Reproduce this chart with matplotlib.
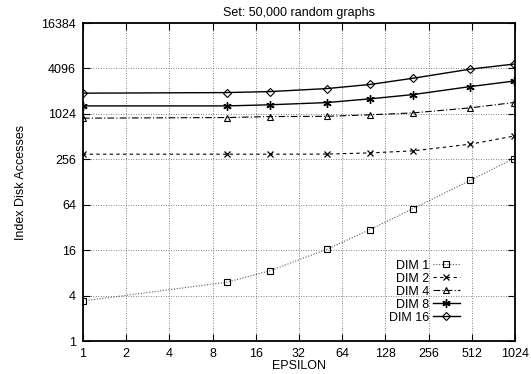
import matplotlib
matplotlib.use("Agg")
import matplotlib.pyplot as plt
from matplotlib.ticker import FixedLocator, FixedFormatter, NullLocator

plt.rcParams['font.family'] = ['Liberation Sans', 'DejaVu Sans']

epsilon = [1, 10, 20, 50, 100, 200, 500, 1000]
dim1 = [3.4, 6.0, 8.5, 16.4, 30, 57, 135, 261]
dim2 = [299, 299, 299, 300, 311, 331, 406, 518]
dim4 = [898, 915, 943, 950, 995, 1055, 1230, 1445]
dim8 = [1305, 1305, 1350, 1445, 1620, 1845, 2355, 2780]
dim16 = [1925, 1960, 2020, 2215, 2510, 3040, 4010, 4670]

x_ticks = [1, 2, 4, 8, 16, 32, 64, 128, 256, 512, 1024]
y_ticks = [1, 4, 16, 64, 256, 1024, 4096, 16384]

fig = plt.figure(figsize=(5.31, 3.74), dpi=100)
ax = fig.add_axes([83/531, 1-341/374, (515-83)/531, (341-23)/374])

ax.set_xscale('log', base=2)
ax.set_yscale('log', base=2)
ax.set_xlim(1, 1024)
ax.set_ylim(1, 16384)

ms = 5
ax.plot(epsilon, dim1, linestyle=(0, (1, 1.5)), color='0.35', lw=0.8,
        marker='s', mfc='none', mec='black', ms=ms, mew=0.8, label='DIM 1')
ax.plot(epsilon, dim2, linestyle=(0, (3, 3)), color='black', lw=0.8,
        marker='x', mec='black', ms=ms, mew=0.9, label='DIM 2')
ax.plot(epsilon, dim4, linestyle=(0, (6, 2, 1, 2)), color='black', lw=0.8,
        marker='^', mfc='none', mec='black', ms=ms, mew=0.8, label='DIM 4')
ax.plot(epsilon, dim8, linestyle='-', color='black', lw=1.0,
        marker=(6, 2, 0), mec='black', ms=ms+1, mew=1.0, label='DIM 8')
ax.plot(epsilon, dim16, linestyle='-', color='black', lw=1.0,
        marker='D', mfc='none', mec='black', ms=ms-0.5, mew=0.8, label='DIM 16')

ax.xaxis.set_major_locator(FixedLocator(x_ticks))
ax.xaxis.set_major_formatter(FixedFormatter([str(v) for v in x_ticks]))
ax.xaxis.set_minor_locator(NullLocator())
ax.yaxis.set_major_locator(FixedLocator(y_ticks))
ax.yaxis.set_major_formatter(FixedFormatter([str(v) for v in y_ticks]))
ax.yaxis.set_minor_locator(NullLocator())

ax.tick_params(axis='both', which='major', direction='in', length=5, width=0.8,
               top=True, right=True, labelsize=9, colors='black')
ax.tick_params(axis='x', pad=5)
ax.tick_params(axis='y', pad=5)
ax.grid(True, which='major', linestyle=(0, (1, 2)), color='0.35', lw=0.6)
for s in ax.spines.values():
    s.set_linewidth(1.3)

ax.set_title('Set: 50,000 random graphs', fontsize=9, pad=5)
ax.set_xlabel('EPSILON', fontsize=9, labelpad=0)
ax.set_ylabel('Index Disk Accesses', fontsize=9, labelpad=10)

leg = ax.legend(loc='lower right', bbox_to_anchor=(0.873, 0.055), frameon=False,
                markerfirst=False, fontsize=9, handlelength=2.2, handletextpad=0.3,
                labelspacing=0.08, borderpad=0.0, borderaxespad=0.0, numpoints=1)

fig.savefig('out.png', dpi=100)
